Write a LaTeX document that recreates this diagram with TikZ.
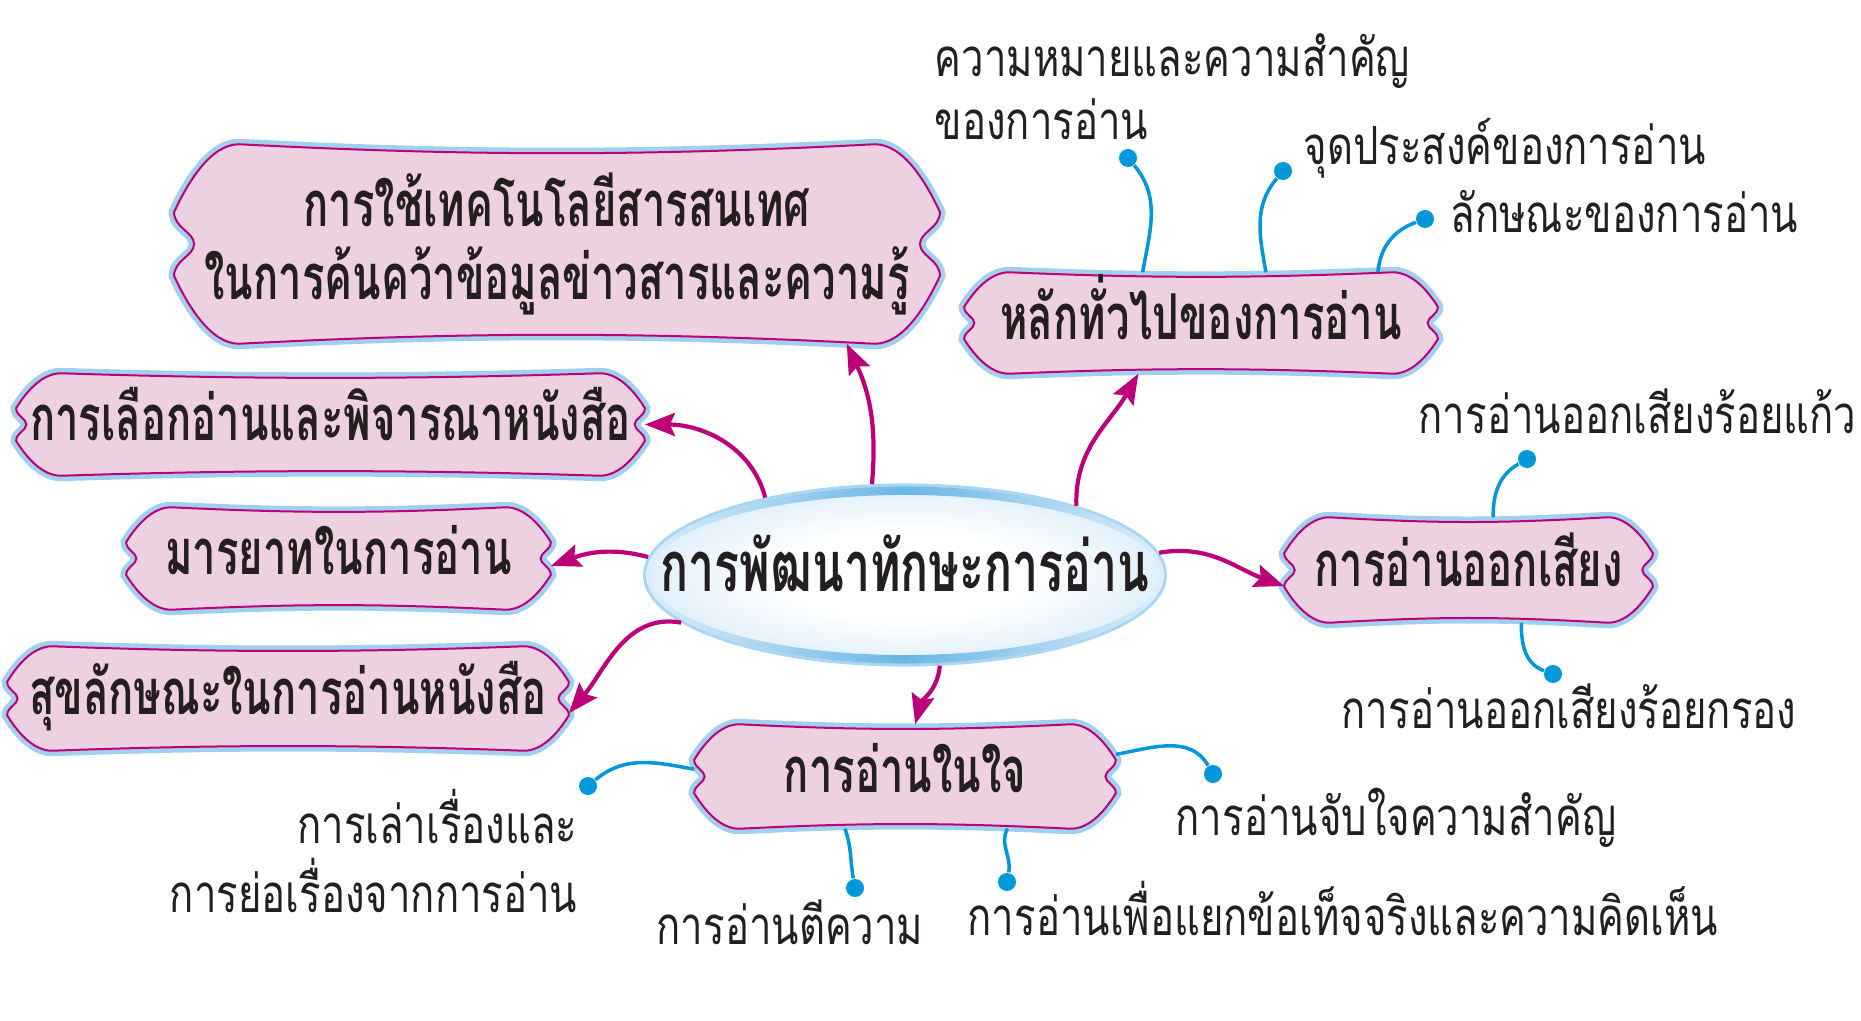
\documentclass[tikz,border=0pt]{standalone}
\usepackage{fontspec}
\newfontfamily\thaifont[Script=Thai,FakeStretch=0.76,BoldFeatures={FakeStretch=0.66}]{Loma}
\usetikzlibrary{shapes.geometric,arrows.meta,calc,backgrounds}
\definecolor{blobpink}{RGB}{238,209,225}
\definecolor{blobmag}{RGB}{190,0,120}
\definecolor{haloblue}{RGB}{160,208,238}
\definecolor{twigblue}{RGB}{0,152,218}
\definecolor{hubpale}{RGB}{192,224,246}
\definecolor{hubrim}{RGB}{170,214,242}
\definecolor{hubdeep}{RGB}{105,182,230}
\definecolor{inkgray}{RGB}{35,31,32}
\pgfdeclareradialshading{hubshade}{\pgfpoint{0bp}{0bp}}{color(0bp)=(white); color(12bp)=(white); color(38bp)=(hubpale); color(47bp)=(hubrim); color(50bp)=(hubrim)}
\newcommand{\blobpath}[2]{%
  let \p1=(#1.south west), \p2=(#1.north east), \p3=($(\p2)-(\p1)$), \p4=($(\p1)!0.5!(\p2)$) in
  (\x1,{\y4+0.16*\y3})
  .. controls ({\x1+0.2*#2},{\y4+0.3*\y3}) and ({\x1+0.55*#2},\y2) .. ({\x1+#2},\y2)
  .. controls ({\x1+#2+0.3*\x3},{\y2-0.06*\y3}) and ({\x2-#2-0.3*\x3},{\y2-0.06*\y3}) .. ({\x2-#2},\y2)
  .. controls ({\x2-0.55*#2},\y2) and ({\x2-0.2*#2},{\y4+0.3*\y3}) .. (\x2,{\y4+0.16*\y3})
  .. controls (\x2,{\y4+0.08*\y3}) and ({\x2-0.1*\y3},{\y4+0.06*\y3}) .. ({\x2-0.1*\y3},\y4)
  .. controls ({\x2-0.1*\y3},{\y4-0.06*\y3}) and (\x2,{\y4-0.08*\y3}) .. (\x2,{\y4-0.16*\y3})
  .. controls ({\x2-0.2*#2},{\y4-0.3*\y3}) and ({\x2-0.55*#2},\y1) .. ({\x2-#2},\y1)
  .. controls ({\x2-#2-0.3*\x3},{\y1+0.06*\y3}) and ({\x1+#2+0.3*\x3},{\y1+0.06*\y3}) .. ({\x1+#2},\y1)
  .. controls ({\x1+0.55*#2},\y1) and ({\x1+0.2*#2},{\y4-0.3*\y3}) .. (\x1,{\y4-0.16*\y3})
  .. controls (\x1,{\y4-0.08*\y3}) and ({\x1+0.1*\y3},{\y4-0.06*\y3}) .. ({\x1+0.1*\y3},\y4)
  .. controls ({\x1+0.1*\y3},{\y4+0.06*\y3}) and (\x1,{\y4+0.08*\y3}) .. cycle}
\tikzset{
  hub/.style={ellipse,minimum width=5.2cm,minimum height=1.8cm,inner xsep=-0.6cm,inner ysep=0pt,shading=hubshade,
    draw=hubrim,line width=0.03cm,text height=0.45cm,text depth=0.12cm,text=inkgray,font=\thaifont\bfseries\fontsize{20pt}{22pt}\selectfont},
  hubring/.style={even odd rule,left color=hubrim!40,right color=hubrim!40,middle color=hubdeep},
  blobtext/.style={inner sep=0pt,text height=0.42cm,text depth=0.1cm,text=inkgray,font=\thaifont\bfseries\fontsize{18pt}{21pt}\selectfont},
  blob/.style={fill=blobpink,draw=blobmag,line width=0.02cm,preaction={draw=haloblue,line width=0.11cm}},
  leaflabel/.style={inner sep=0pt,text=inkgray,font=\thaifont\fontsize{15pt}{17.9pt}\selectfont},
  link/.style={draw=blobmag,line width=0.042cm,-{Stealth[length=0.3cm,width=0.23cm,inset=0.05cm]}},
  twig/.style={draw=twigblue,line width=0.035cm},
  leafdot/.style={circle,fill=twigblue,inner sep=0pt,minimum size=0.18cm}
}
\begin{document}
\begin{tikzpicture}[x=0.01cm,y=0.01cm]
\useasboundingbox (0,0) rectangle (1861,1020);
\node[hub] (hub) at (905,445) {การพัฒนาทักษะการอ่าน};
\path[hubring] (hub.center) ellipse (2.585cm and 0.885cm) ellipse (2.55cm and 0.8cm);
\node[blobtext,text height=,text depth=,minimum width=7.64cm,minimum height=1.98cm,align=center] (tech) at (557,776) {การใช้เทคโนโลยีสารสนเทศ\\ในการค้นคว้าข้อมูลข่าวสารและความรู้};
\node[blobtext,minimum width=6.27cm,minimum height=1.01cm] (choose) at (330.5,595.5) {การเลือกอ่านและพิจารณาหนังสือ};
\node[blobtext,minimum width=4.23cm,minimum height=1.01cm] (manner) at (338.5,461.5) {มารยาทในการอ่าน};
\node[blobtext,minimum width=5.60cm,minimum height=1.03cm] (hygiene) at (288,321.5) {สุขลักษณะในการอ่านหนังสือ};
\node[blobtext,minimum width=4.72cm,minimum height=1.00cm] (basics) at (1201,697) {หลักทั่วไปของการอ่าน};
\node[blobtext,minimum width=3.67cm,minimum height=1.04cm] (aloud) at (1468.5,450) {การอ่านออกเสียง};
\node[blobtext,minimum width=4.20cm,minimum height=1.03cm] (silent) at (905,243.5) {การอ่านในใจ};
\begin{scope}[on background layer]
\foreach \b/\a in {tech/0.65cm,choose/0.45cm,manner/0.45cm,hygiene/0.45cm,basics/0.45cm,aloud/0.45cm,silent/0.45cm}
  \path[blob] \blobpath{\b}{\a};
\end{scope}
\foreach \from/\dest/\outa/\ina in {110/tech.-19.5/85/-65,151/choose.east/105/0,176/manner.-2/165/20,192/hygiene.-3/170/50,22/basics.-141/92/-120,5/aloud.185/10/160,-69/silent.79/-95/75}
  \draw[link] (hub.\from) to[out=\outa,in=\ina] (\dest);
\node[leafdot] (d1) at (1128,862) {};
\node[leafdot] (d2) at (1283,849) {};
\node[leafdot] (d3) at (1425,801) {};
\node[leafdot] (d4) at (1527,561) {};
\node[leafdot] (d5) at (1553,346) {};
\node[leafdot] (d6) at (1213,246) {};
\node[leafdot] (d7) at (1007,138) {};
\node[leafdot] (d8) at (855,132) {};
\node[leafdot] (d9) at (588,234) {};
\foreach \from/\leaf/\outa/\ina in {basics.139/d1/80/-50,basics.38/d2/100/-130,basics.16/d3/85/200,aloud.65/d4/90/210,aloud.-45/d5/-90/160,silent.6/d6/10/120,silent.-27/d7/-120/80,silent.-139/d8/-70/100,silent.178/d9/170/40}
  \draw[twig] (\from) to[out=\outa,in=\ina] (\leaf);
\node[leaflabel,anchor=west,align=left] (meaning) at (934,933) {ความหมายและความสำคัญ\\ของการอ่าน};
\node[leaflabel,anchor=base west] (purpose) at (1303,855.5) {จุดประสงค์ของการอ่าน};
\node[leaflabel,anchor=base west] (nature) at (1450,787.5) {ลักษณะของการอ่าน};
\node[leaflabel,anchor=base west] (prose) at (1418,586.5) {การอ่านออกเสียงร้อยแก้ว};
\node[leaflabel,anchor=base west] (verse) at (1341,291.5) {การอ่านออกเสียงร้อยกรอง};
\node[leaflabel,anchor=base west] (gist) at (1175,185) {การอ่านจับใจความสำคัญ};
\node[leaflabel,anchor=base west] (fact) at (967,84.5) {การอ่านเพื่อแยกข้อเท็จจริงและความคิดเห็น};
\node[leaflabel,anchor=base west] (interp) at (656,75.5) {การอ่านตีความ};
\node[leaflabel,anchor=east,align=right] (retell) at (578,169) {การเล่าเรื่องและ\\[2pt]การย่อเรื่องจากการอ่าน};
\end{tikzpicture}
\end{document}
